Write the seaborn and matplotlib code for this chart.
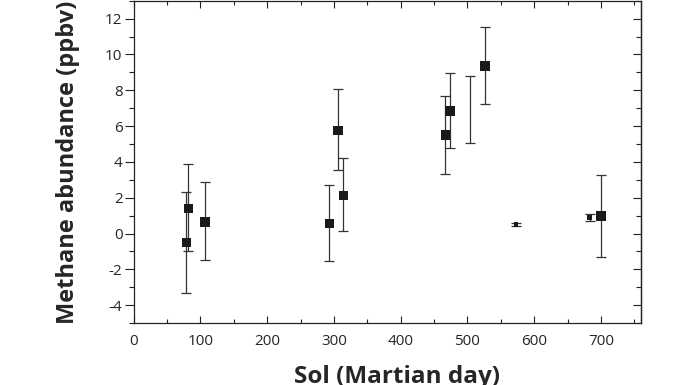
import numpy as np
import pandas as pd
import matplotlib
matplotlib.use('Agg')
import matplotlib.pyplot as plt
import seaborn as sns
from matplotlib.ticker import MultipleLocator

# sol, methane value, upper / lower end of the error bar
sol = [79, 82, 107, 293, 306, 314, 467, 474, 526, 573, 683, 700]
methane = [-0.5, 1.4, 0.65, 0.55, 5.75, 2.12, 5.5, 6.85, 9.35, 0.5, 0.9, 0.97]
err_top = [2.3, 3.9, 2.88, 2.73, 8.06, 4.19, 7.68, 8.99, 11.54, 0.6, 1.08, 3.27]
err_bot = [-3.33, -1.0, -1.46, -1.53, 3.53, 0.13, 3.31, 4.77, 7.22, 0.41, 0.71, -1.31]
small = [False] * 9 + [True, True, False]

# a bar that has no marker drawn on it
lone_sol = [504]
lone_top = [8.77]
lone_bot = [5.05]

y_ticks = [-4, -2, 0, 2, 4, 6, 8, 10, 12]

df = pd.DataFrame({'sol': sol, 'ch4': methane, 'top': err_top, 'bot': err_bot, 'small': small})

sns.set_style('ticks')
plt.rcParams['font.family'] = ['Open Sans', 'DejaVu Sans']

fig = plt.figure(figsize=(6.96, 3.85), dpi=100)
ax = fig.add_axes([0.192, 0.161, 0.729, 0.837])

bar_color = '#333333'
ax.errorbar(df['sol'], df['ch4'],
            yerr=[df['ch4'] - df['bot'], df['top'] - df['ch4']],
            fmt='none', ecolor=bar_color, elinewidth=0.9, capsize=3.5, capthick=0.9, zorder=2)
lone_mid = [(a + b) / 2 for a, b in zip(lone_top, lone_bot)]
ax.errorbar(lone_sol, lone_mid,
            yerr=[[m - b for m, b in zip(lone_mid, lone_bot)], [t - m for t, m in zip(lone_top, lone_mid)]],
            fmt='none', ecolor=bar_color, elinewidth=0.9, capsize=3.5, capthick=0.9, zorder=2)

big = df[~df['small']]
sm = df[df['small']]
sns.scatterplot(data=big, x='sol', y='ch4', marker='s', s=46, color='#1a1a1a',
                edgecolor='none', ax=ax, zorder=3, legend=False)
sns.scatterplot(data=sm, x='sol', y='ch4', marker='s', s=10, color='#1a1a1a',
                edgecolor='none', ax=ax, zorder=3, legend=False)

ax.xaxis.set_major_locator(MultipleLocator(100))
ax.xaxis.set_minor_locator(MultipleLocator(50))
ax.set_yticks(y_ticks)
ax.set_yticklabels([str(v) for v in y_ticks])
ax.yaxis.set_minor_locator(MultipleLocator(1))
ax.set_xlim(0, 760)
ax.set_ylim(-5, 13)

for side in ['top', 'right', 'bottom', 'left']:
    ax.spines[side].set_visible(True)
    ax.spines[side].set_linewidth(0.9)
    ax.spines[side].set_color('#222222')

ax.tick_params(axis='y', which='both', left=True, right=False, direction='out', color='#222222', width=0.8)
ax.tick_params(axis='y', which='major', length=6.5, labelsize=11, pad=1.5)
ax.tick_params(axis='y', which='minor', length=3.5)
ax.tick_params(axis='x', which='both', bottom=True, top=True, direction='in', color='#222222', width=0.8)
ax.tick_params(axis='x', which='major', length=5, labelsize=11, pad=8)
ax.tick_params(axis='x', which='minor', length=3)

# inward ticks on the right side
ax_r = ax.secondary_yaxis('right')
ax_r.set_yticks(y_ticks)
ax_r.yaxis.set_minor_locator(MultipleLocator(1))
ax_r.tick_params(axis='y', which='both', direction='in', color='#222222', width=0.8, labelright=False)
ax_r.tick_params(axis='y', which='major', length=6)
ax_r.tick_params(axis='y', which='minor', length=3.5)
ax_r.spines['right'].set_linewidth(0.9)
ax_r.spines['right'].set_color('#222222')

ax.set_xlabel('Sol (Martian day)', fontsize=17.5, fontweight='bold', labelpad=12)
ax.xaxis.set_label_coords(0.52, -0.13)
ax.set_ylabel('Methane abundance (ppbv)', fontsize=17, fontweight='bold', labelpad=18)

fig.savefig('out.png', dpi=100)
